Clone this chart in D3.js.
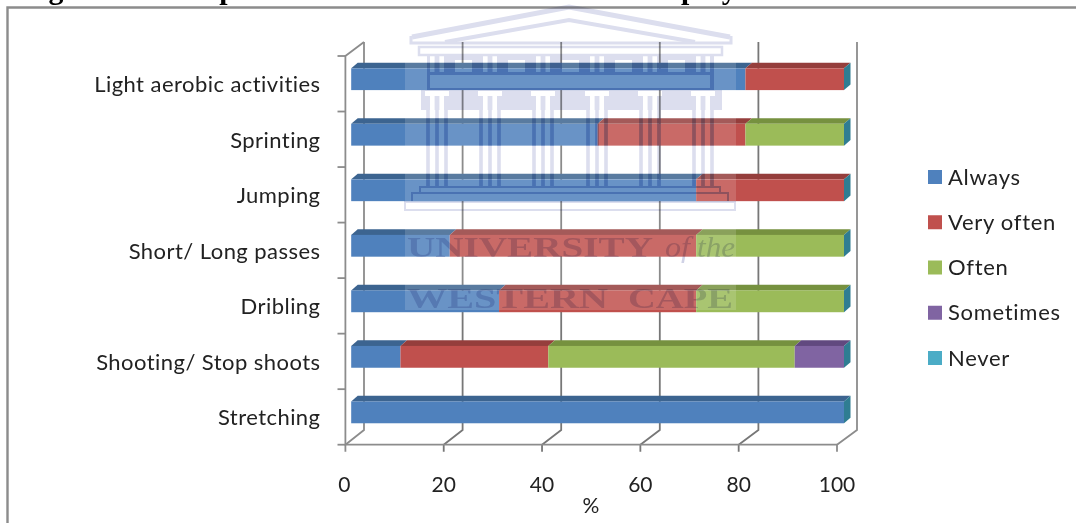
<!DOCTYPE html>
<html><head><meta charset="utf-8">
<script src="https://cdn.jsdelivr.net/npm/d3@7"></script>
<style>
html,body{margin:0;padding:0;background:#fff;overflow:hidden}
svg{display:block;filter:blur(0.45px)}
text{font-family:Lato,"Open Sans",sans-serif;fill:#222}
</style></head><body>
<svg id="c" width="1076" height="523"></svg>
<script>
const categories=["Light aerobic activities","Sprinting","Jumping","Short/ Long passes","Dribling","Shooting/ Stop shoots","Stretching"];
const seriesNames=["Always","Very often","Often","Sometimes","Never"];
const always=[80,50,70,20,30,10,100];
const veryOften=[20,30,30,50,40,30,0];
const often=[0,20,0,30,30,50,0];
const sometimes=[0,0,0,0,0,10,0];
const never=[0,0,0,0,0,0,0];
const seriesValues=[always,veryOften,often,sometimes,never];
const xTicks=[0,20,40,60,80,100];
const colors=["#4f81bd","#c0504d","#9bbb59","#8064a2","#4bacc6"];
const topColors=["#3c6490","#953e3c","#76913f","#61497f","#31859c"];
const sideColor="#2f7d92";
const titleText="Figure 4.5b: Reported included activities in warm-up by coaches";
const xTitle="%";

const svg=d3.select("#c");
const grey="#8c8c8c";

svg.append("text").attr("x",22).attr("y",-1).attr("font-size",29.8).attr("font-weight",700)
  .style("font-family","'Liberation Serif',serif").style("fill","#000").text(titleText);
svg.append("path").attr("d","M7.5,523V7.5H1076").attr("fill","none").attr("stroke",grey).attr("stroke-width",2.4);

const xFront=d3.scaleLinear().domain([0,100]).range([345.4,837]);
const xBack=d3.scaleLinear().domain([0,100]).range([364,857]);
const xBar=d3.scaleLinear().domain([0,100]).range([351.2,844]);
const y=d3.scaleBand().domain(categories).range([56,444.7]);
const backTop=42,backBottom=430,frontBottom=y.range()[1],frontTop=y.range()[0];

const axes=svg.append("g").attr("fill","none").attr("stroke",grey).attr("stroke-width",1.8);
xTicks.forEach(t=>{
  axes.append("path").attr("stroke",t>0&&t<100?"#777":grey)
    .attr("d",`M${xBack(t)},${backTop}V${backBottom}L${xFront(t)},${frontBottom}V${frontBottom+7}`);
});
axes.append("path").attr("d",`M${xBack(0)},${backTop}L${xFront(0)},${frontTop}V${frontBottom}H${xFront(100)}`);
const catEdges=categories.map(c=>y(c)).concat([frontBottom]);
axes.selectAll("line.t").data(catEdges).join("line")
  .attr("x1",337.5).attr("x2",xFront(0)).attr("y1",d=>d).attr("y2",d=>d);

const rows=categories.map((c,i)=>{const r={cat:c};seriesNames.forEach((s,k)=>r[s]=seriesValues[k][i]);return r;});
const stacked=d3.stack().keys(seriesNames)(rows);
const barTop=12.3,barH=21.8,dx=6.5,dy=5.6;
const bars=svg.append("g");
stacked.forEach((ser,k)=>{
  const g=bars.append("g");
  ser.filter(d=>d[1]>d[0]).forEach(d=>{
    const yt=y(d.data.cat)+barTop, x0=xBar(d[0]), x1=xBar(d[1]);
    g.append("path").attr("fill",topColors[k])
      .attr("d",`M${x0},${yt}L${x0+dx},${yt-dy}H${x1+dx}L${x1},${yt}Z`);
    g.append("rect").attr("x",x0).attr("y",yt).attr("width",x1-x0).attr("height",barH).attr("fill",colors[k]);
  });
});
bars.append("g").selectAll("path").data(categories).join("path").attr("fill",sideColor)
  .attr("d",c=>{const yt=y(c)+barTop,x=xBar(100);
    return `M${x},${yt}L${x+dx},${yt-dy}V${yt+barH-dy}L${x},${yt+barH}Z`;});

svg.append("g").selectAll("text").data(categories).join("text")
  .attr("x",320.5).attr("y",c=>y(c)+y.bandwidth()/2+8.5).attr("text-anchor","end")
  .attr("font-size",22).attr("letter-spacing",0.45).text(d=>d);
svg.append("g").selectAll("text").data(xTicks).join("text")
  .attr("x",d=>xFront(d)-(d===0?1:0)).attr("y",491.5).attr("text-anchor","middle")
  .attr("font-size",21).text(d=>d);
svg.append("text").attr("x",591).attr("y",513).attr("text-anchor","middle").attr("font-size",21).text(xTitle);

const legendY=d3.scalePoint().domain(seriesNames).range([177,358]);
const lg=svg.append("g").selectAll("g").data(seriesNames).join("g");
lg.append("rect").attr("x",928).attr("y",d=>legendY(d)-7).attr("width",14).attr("height",14)
  .attr("fill",(d,i)=>colors[i]);
lg.append("text").attr("x",948).attr("y",d=>legendY(d)+7.5).attr("font-size",22).attr("letter-spacing",0.7).text(d=>d);

// university watermark over the chart
svg.append("rect").attr("x",405).attr("y",40).attr("width",331).attr("height",270).attr("fill","#fff").attr("opacity",.15);
const columnX=[437,490,543,597,650,703];
const metopeX=[455,508,562,615,668];
const r=(x,y0,w,h)=>`M${x},${y0}h${w}v${h}h${-w}Z`;
function drawLogo(g,col){
  const line=(d,w)=>g.append("path").attr("d",d).attr("fill","none").attr("stroke",col).attr("stroke-width",w);
  line("M412,37L569,7L730,37",5);
  line("M445,42L569,20L695,42",4);
  line("M411,36V43H731V36",3);
  line(r(419,47,303,8),2.5);
  let d=r(427,55,287,35)+r(430,75,280,13);
  metopeX.forEach(x=>d+=r(x,60,17,12));
  columnX.forEach(cx=>{d+=r(cx-7,56,4.6,16)+r(cx+2.4,56,4.6,16);});
  g.append("path").attr("d",d).attr("fill",col).attr("fill-rule","evenodd");
  let b=r(421,90,301,20);
  columnX.forEach(cx=>{b+=r(cx-12,91,24,5)+r(cx-7,96,4.6,14)+r(cx+2.4,96,4.6,14);});
  g.append("path").attr("d",b).attr("fill",col).attr("fill-rule","evenodd");
  columnX.forEach(cx=>[-9,0,9].forEach(o=>
    g.append("rect").attr("x",cx+o-1.8).attr("y",110).attr("width",3.6).attr("height",77).attr("fill",col)));
  line(r(420,187,300,6),2);
  line(r(412,193,316,9),2);
  line(r(405,202,330,8),2);
}
const logo=svg.append("g").style("mix-blend-mode","multiply");
drawLogo(logo.append("g"),"#dcdeee");
const clip=svg.append("clipPath").attr("id","barRows");
clip.selectAll("rect").data(categories).join("rect")
  .attr("x",xBar(0)).attr("width",xBar(100)-xBar(0)+dx)
  .attr("y",c=>y(c)+barTop-dy).attr("height",barH+dy);
drawLogo(logo.append("g").attr("clip-path","url(#barRows)"),"#b4c6e6");

const letter=(t,y0,x0,len,style)=>logo.append("text").attr("x",x0).attr("y",y0).attr("font-size",30)
  .attr("font-weight",style?400:700).attr("font-style",style||"normal")
  .attr("textLength",len).attr("lengthAdjust","spacingAndGlyphs")
  .style("font-family","'Liberation Serif',serif").style("fill","#8f94c4").attr("opacity",.42).text(t);
letter("UNIVERSITY",257,407,246);
letter("of",257,665,25,"italic");
letter("the",257,697,38,"italic");
letter("WESTERN",308,407,201);
letter("CAPE",308,628,105);
</script>
</body></html>
